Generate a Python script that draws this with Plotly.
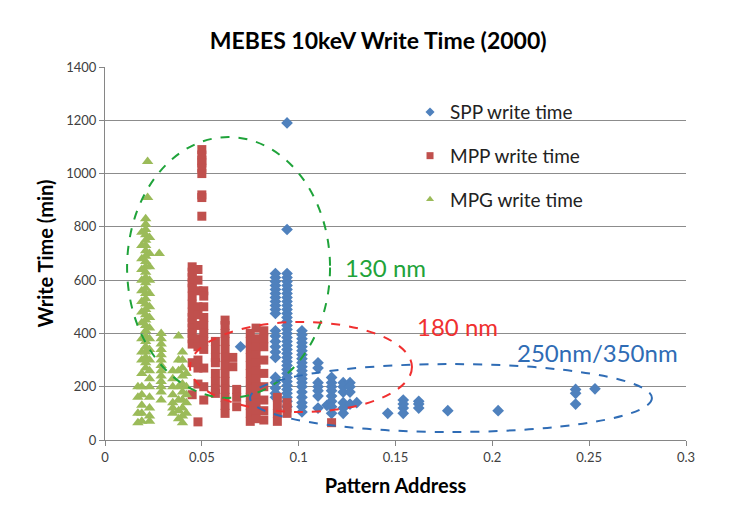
import plotly.graph_objects as go

# ---------------- data ----------------
spp_x = ([0.070]
         + [0.088] * 22
         + [0.094] * 36
         + [0.1017] * 20
         + [0.110] * 7
         + [0.1146]
         + [0.117] * 8
         + [0.123] * 6
         + [0.1265] * 4
         + [0.130, 0.146]
         + [0.154] * 4
         + [0.162] * 3
         + [0.177, 0.203]
         + [0.243] * 3
         + [0.253])
spp_y = ([350]
         + [625, 610, 595, 580, 565, 550, 535, 520, 505, 490, 475, 410, 390, 370, 350, 330, 310, 235, 215, 195, 175, 160]
         + [1190, 790, 625, 610, 595, 580, 565, 550, 535, 520, 505, 490, 475, 460, 445, 430, 415, 400, 385, 370,
            355, 340, 325, 310, 295, 280, 265, 250, 235, 220, 205, 190, 175, 160, 145, 125]
         + [410, 395, 380, 365, 350, 335, 320, 305, 290, 275, 260, 245, 230, 215, 200, 180, 160, 140, 125, 105]
         + [290, 270, 215, 200, 185, 165, 120]
         + [130]
         + [235, 215, 200, 185, 165, 145, 125, 100]
         + [215, 200, 180, 140, 120, 100]
         + [215, 200, 180, 135]
         + [140, 100]
         + [150, 135, 120, 100]
         + [145, 135, 120]
         + [110, 110]
         + [190, 175, 135]
         + [192])

mpp_x = ([0.050] * 9
         + [0.045] * 16
         + [0.048] * 12
         + [0.051] * 11
         + [0.057] * 8
         + [0.062] * 13
         + [0.066] * 2
         + [0.068] * 3
         + [0.075] * 12
         + [0.078] * 12
         + [0.082] * 9
         + [0.089] * 4
         + [0.094] * 3
         + [0.117])
mpp_y = ([1090, 1070, 1050, 1040, 1020, 1000, 920, 910, 840]
         + [650, 630, 610, 590, 570, 540, 510, 480, 460, 440, 420, 400, 380, 360, 290, 170]
         + [640, 600, 560, 500, 470, 430, 380, 350, 300, 270, 210, 68]
         + [560, 540, 500, 460, 430, 400, 370, 340, 270, 200, 150]
         + [370, 340, 310, 290, 250, 220, 190, 175]
         + [450, 430, 400, 370, 340, 310, 280, 250, 220, 190, 160, 130, 100]
         + [310, 275]
         + [190, 160, 125]
         + [400, 370, 340, 310, 280, 250, 220, 190, 160, 130, 100, 70]
         + [420, 380, 350, 320, 290, 260, 230, 200, 170, 140, 110, 80]
         + [410, 380, 350, 300, 250, 200, 150, 110, 75]
         + [160, 130, 100, 70]
         + [140, 120, 100]
         + [65])

mpg_x = ([0.021] * 29
         + [0.019] * 18
         + [0.023] * 18
         + [0.022] * 2
         + [0.028]
         + [0.029] * 13
         + [0.017] * 4
         + [0.035] * 7
         + [0.038] * 7
         + [0.040] * 10
         + [0.042] * 5)
mpg_y = ([830, 810, 790, 770, 750, 730, 710, 690, 670, 650, 630, 610, 590, 570, 550, 530, 510, 490, 470, 450,
          430, 410, 390, 370, 350, 330, 310, 290, 270]
         + [780, 730, 680, 640, 600, 560, 520, 480, 440, 380, 330, 300, 250, 200, 170, 130, 100, 70]
         + [760, 700, 650, 600, 550, 500, 460, 420, 380, 340, 300, 260, 230, 200, 160, 120, 90, 70]
         + [1045, 910]
         + [700]
         + [400, 380, 360, 340, 320, 300, 280, 260, 240, 220, 200, 180, 150]
         + [200, 160, 100, 65]
         + [260, 230, 200, 170, 140, 120, 100]
         + [390, 300, 260, 200, 150, 110, 80]
         + [330, 300, 270, 240, 210, 180, 150, 120, 90, 65]
         + [250, 200, 170, 140, 100])

series_names = ["SPP write time", "MPP write time", "MPG write time"]
x_ticks = [0, 0.05, 0.1, 0.15, 0.2, 0.25, 0.3]
x_tick_labels = ["0", "0.05", "0.1", "0.15", "0.2", "0.25", "0.3"]
y_ticks = [0, 200, 400, 600, 800, 1000, 1200, 1400]

FONT = "Lato"
colors = ["#4F81BD", "#C0504D", "#9BBB59"]
symbols = ["diamond", "square", "triangle-up"]
sizes = [9, 9, 10]
xs = [spp_x, mpp_x, mpg_x]
ys = [spp_y, mpp_y, mpg_y]

fig = go.Figure()
for i in range(3):
    fig.add_trace(go.Scatter(x=xs[i], y=ys[i], mode="markers", name=series_names[i], showlegend=False,
                             marker=dict(symbol=symbols[i], size=sizes[i], color=colors[i])))
# legend entries with small symbols (as in the reference)
for i in range(3):
    fig.add_trace(go.Scatter(x=[None], y=[None], mode="markers", name=series_names[i], legendgroup=str(i),
                             marker=dict(symbol=symbols[i], size=7, color=colors[i])))

# ellipses (annotation overlays)
fig.add_shape(type="circle", xref="x", yref="y", x0=0.0114, x1=0.1162, y0=158, y1=1137,
              line=dict(color="#1FA33A", width=2, dash="dash"), layer="above")
fig.add_shape(type="circle", xref="x", yref="y", x0=0.0439, x1=0.1585, y0=105, y1=443,
              line=dict(color="#F03030", width=2, dash="dash"), layer="above")
fig.add_shape(type="circle", xref="x", yref="y", x0=0.0749, x1=0.2824, y0=30, y1=285,
              line=dict(color="#2F6CB5", width=2, dash="dash"), layer="above")

fig.add_annotation(x=0.1446, y=646, xref="x", yref="y", text="130 nm", showarrow=False,
                   font=dict(family=FONT, size=24, color="#1FA33A"))
fig.add_annotation(x=0.1822, y=425, xref="x", yref="y", text="180 nm", showarrow=False,
                   font=dict(family=FONT, size=24, color="#F03030"))
fig.add_annotation(x=0.2545, y=327, xref="x", yref="y", text="250nm/350nm", showarrow=False,
                   font=dict(family=FONT, size=24, color="#2F6CB5"))

# the page adds an 8px body margin, so the figure is 8px smaller and margins shifted
fig.update_layout(
    width=736, height=501,
    margin=dict(l=97, r=58, t=59, b=69),
    paper_bgcolor="white", plot_bgcolor="white",
    title=dict(text="<b>MEBES 10keV Write Time (2000)</b>", x=0.503, xanchor="center", y=0.935, yanchor="middle",
               font=dict(family=FONT, size=23, color="black")),
    font=dict(family=FONT, color="black"),
    showlegend=True,
    legend=dict(x=0.525, y=0.93, xanchor="left", yanchor="top", bgcolor="rgba(0,0,0,0)",
                font=dict(family=FONT, size=19, color="#222222"), tracegroupgap=16,
                traceorder="grouped"),
    xaxis=dict(range=[0, 0.3], tickvals=x_ticks, ticktext=x_tick_labels, showgrid=False, zeroline=False,
               showline=True, linecolor="#868686", linewidth=1, ticks="outside", ticklen=5, tickcolor="#868686",
               tickfont=dict(family=FONT, size=13, color="#404040"),
               title=dict(text="<b>Pattern Address</b>", font=dict(family=FONT, size=20, color="black"), standoff=15)),
    yaxis=dict(range=[0, 1400], tickvals=y_ticks, showgrid=True, gridcolor="#8C8C8C", gridwidth=1, zeroline=False,
               showline=True, linecolor="#868686", linewidth=1, ticks="outside", ticklen=5, tickcolor="#868686",
               tickfont=dict(family=FONT, size=13, color="#404040"),
               title=dict(text="<b>Write Time (min)</b>", font=dict(family=FONT, size=20, color="black"), standoff=7)),
)

fig.write_html("out.html")
